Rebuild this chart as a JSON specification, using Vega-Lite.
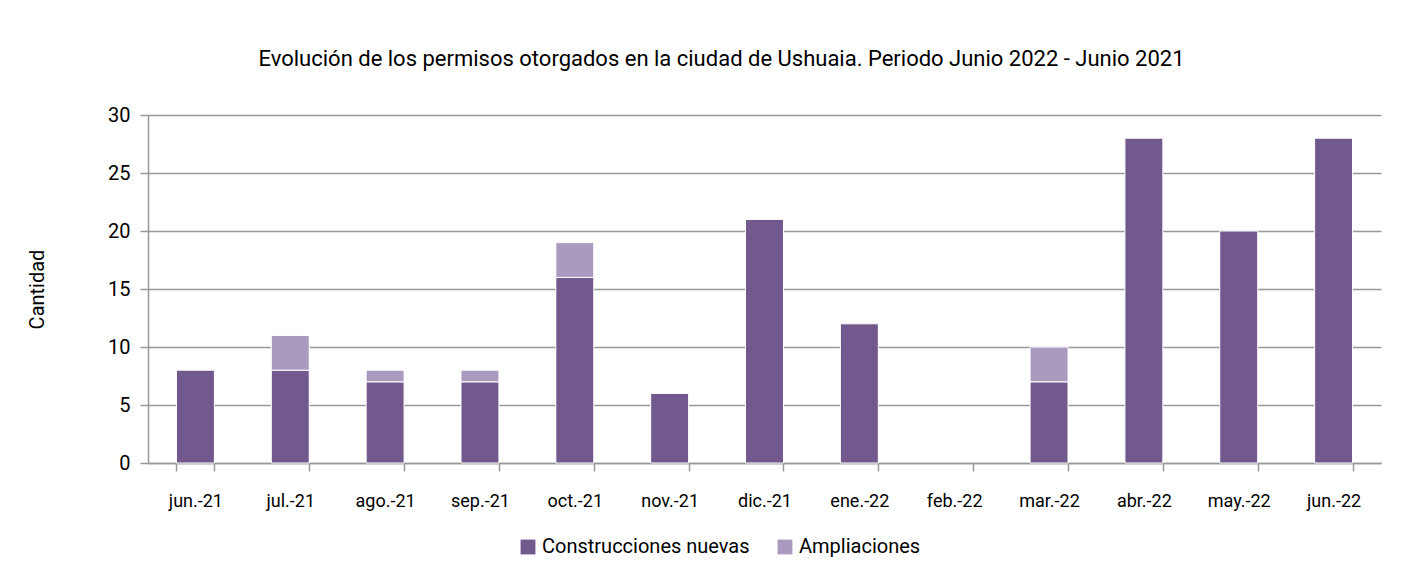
{
  "$schema": "https://vega.github.io/schema/vega-lite/v6.json",
  "autosize": {"type": "none"},
  "width": 1233,
  "height": 348,
  "padding": {"left": 148, "top": 115, "right": 32, "bottom": 118},
  "background": "white",
  "title": {
    "text": "Evolución de los permisos otorgados en la ciudad de Ushuaia. Periodo Junio 2022 - Junio 2021",
    "font": "Roboto",
    "fontSize": 22,
    "fontWeight": "normal",
    "color": "#000000",
    "anchor": "middle",
    "dx": -43,
    "offset": 34
  },
  "data": {
    "values": [
      {"mes": "jun.-21", "tipo": "Construcciones nuevas", "cantidad": 8},
      {"mes": "jul.-21", "tipo": "Construcciones nuevas", "cantidad": 8},
      {"mes": "ago.-21", "tipo": "Construcciones nuevas", "cantidad": 7},
      {"mes": "sep.-21", "tipo": "Construcciones nuevas", "cantidad": 7},
      {"mes": "oct.-21", "tipo": "Construcciones nuevas", "cantidad": 16},
      {"mes": "nov.-21", "tipo": "Construcciones nuevas", "cantidad": 6},
      {"mes": "dic.-21", "tipo": "Construcciones nuevas", "cantidad": 21},
      {"mes": "ene.-22", "tipo": "Construcciones nuevas", "cantidad": 12},
      {"mes": "feb.-22", "tipo": "Construcciones nuevas", "cantidad": 0},
      {"mes": "mar.-22", "tipo": "Construcciones nuevas", "cantidad": 7},
      {"mes": "abr.-22", "tipo": "Construcciones nuevas", "cantidad": 28},
      {"mes": "may.-22", "tipo": "Construcciones nuevas", "cantidad": 20},
      {"mes": "jun.-22", "tipo": "Construcciones nuevas", "cantidad": 28},
      {"mes": "jun.-21", "tipo": "Ampliaciones", "cantidad": 0},
      {"mes": "jul.-21", "tipo": "Ampliaciones", "cantidad": 3},
      {"mes": "ago.-21", "tipo": "Ampliaciones", "cantidad": 1},
      {"mes": "sep.-21", "tipo": "Ampliaciones", "cantidad": 1},
      {"mes": "oct.-21", "tipo": "Ampliaciones", "cantidad": 3},
      {"mes": "nov.-21", "tipo": "Ampliaciones", "cantidad": 0},
      {"mes": "dic.-21", "tipo": "Ampliaciones", "cantidad": 0},
      {"mes": "ene.-22", "tipo": "Ampliaciones", "cantidad": 0},
      {"mes": "feb.-22", "tipo": "Ampliaciones", "cantidad": 0},
      {"mes": "mar.-22", "tipo": "Ampliaciones", "cantidad": 3},
      {"mes": "abr.-22", "tipo": "Ampliaciones", "cantidad": 0},
      {"mes": "may.-22", "tipo": "Ampliaciones", "cantidad": 0},
      {"mes": "jun.-22", "tipo": "Ampliaciones", "cantidad": 0}
    ]
  },
  "transform": [{"filter": "datum.cantidad > 0"}],
  "mark": {"type": "bar", "stroke": "white", "strokeWidth": 1},
  "encoding": {
    "x": {
      "field": "mes",
      "type": "ordinal",
      "sort": null,
      "scale": {
        "domain": ["jun.-21", "jul.-21", "ago.-21", "sep.-21", "oct.-21", "nov.-21", "dic.-21", "ene.-22", "feb.-22", "mar.-22", "abr.-22", "may.-22", "jun.-22"],
        "paddingInner": 0.6,
        "paddingOuter": 0.3
      },
      "axis": {
        "title": null,
        "labelAngle": 0,
        "labelFont": "Roboto",
        "labelFontSize": 18,
        "labelColor": "#000000",
        "labelPadding": 21,
        "tickBand": "extent",
        "tickSize": 8,
        "tickColor": "#999999",
        "tickWidth": 1.5,
        "domainColor": "#999999",
        "domainWidth": 1.5
      }
    },
    "y": {
      "field": "cantidad",
      "type": "quantitative",
      "stack": "zero",
      "scale": {"domain": [0, 30]},
      "axis": {
        "title": "Cantidad",
        "titleFont": "Roboto",
        "titleFontSize": 20,
        "titleFontWeight": "normal",
        "titleColor": "#000000",
        "titlePadding": 60,
        "values": [0, 5, 10, 15, 20, 25, 30],
        "labelFont": "Roboto",
        "labelFontSize": 20,
        "labelColor": "#000000",
        "labelPadding": 10,
        "tickSize": 8,
        "tickColor": "#999999",
        "tickWidth": 1.5,
        "domainColor": "#999999",
        "domainWidth": 1.5,
        "gridColor": "#999999",
        "gridWidth": 1.5
      }
    },
    "color": {
      "field": "tipo",
      "type": "nominal",
      "scale": {"domain": ["Construcciones nuevas", "Ampliaciones"], "range": ["#72598D", "#AB9AC0"]},
      "legend": {
        "title": null,
        "orient": "none",
        "direction": "horizontal",
        "legendX": 370,
        "legendY": 422,
        "symbolType": "square",
        "symbolSize": 220,
        "symbolStrokeWidth": 0,
        "labelFont": "Roboto",
        "labelFontSize": 20,
        "labelColor": "#000000",
        "labelLimit": 0,
        "columnPadding": 25,
        "labelOffset": 4
      }
    },
    "order": {"field": "tipo", "sort": "descending"}
  },
  "config": {"view": {"stroke": null}}
}
